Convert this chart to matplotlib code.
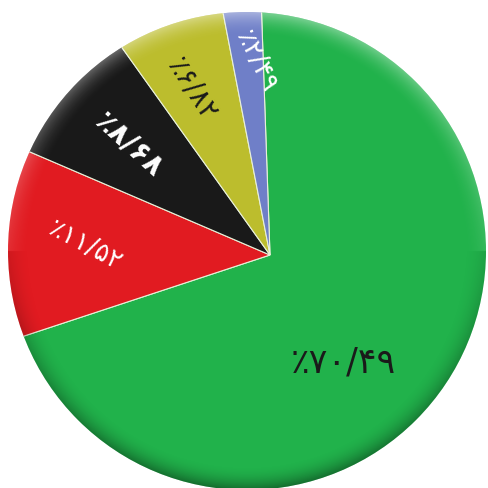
import numpy as np
import matplotlib
matplotlib.use("Agg")
import matplotlib.pyplot as plt
from matplotlib.patches import Circle

plt.rcParams['font.family'] = ['DejaVu Sans']

# data (clockwise from the top)
shares = [70.49, 11.52, 8.68, 6.82, 2.49]
labels = ["٪۷۰/۴۹", "٪۱۱/۵۲", "٪۸/۶۸", "٪۶/۸۲", "٪۲/۴۹"]
colors = ["#21b24b", "#e11b21", "#191919", "#bcbd2d", "#6f7fc8"]
text_colors = ["#1a1a1a", "#ffffff", "#ffffff", "#1a1a1a", "#ffffff"]

# label styling
label_radius = [0.545, 0.775, 0.75, 0.765, 0.81]
label_angle_shift = [-21, -0.5, 1, 2, -2.3]
label_rotation = [0, -28, -42, -57, -64]
label_size = [25, 19, 21, 20, 19]
label_weight = ["normal", "normal", "bold", "normal", "normal"]

W, H = 489, 488
fig = plt.figure(figsize=(W / 100, H / 100), dpi=100)
ax = fig.add_axes([0, 0, 1, 1])

# disc outline and the (slightly off-centre) apex of the slices
cx, cy, R = 247, H - 251, 239
ax_, ay_ = 270, H - 255

wedges, _ = ax.pie(shares, colors=colors, startangle=92, counterclock=False,
                   center=(ax_, ay_), radius=R * 1.4, frame=True,
                   wedgeprops=dict(edgecolor="#e8f0d8", linewidth=0.8))
ax.set_aspect("auto")
ax.axis("off")

disc = Circle((cx, cy), R, facecolor="none", edgecolor="none")
ax.add_patch(disc)
for w in wedges:
    w.set_clip_on(True)
    w.set_clip_path(disc)

# soft bevel shading at the rim
n = 400
xs = np.linspace(cx - R, cx + R, n)
ys = np.linspace(cy - R, cy + R, n)
X, Y = np.meshgrid(xs, ys)
r = np.sqrt((X - cx) ** 2 + (Y - cy) ** 2) / R
shade = np.clip((r - 0.90) / 0.10, 0, 1) ** 2
s = (Y - cy) / np.maximum(r * R, 1e-6)
rgba = np.zeros((n, n, 4))
rgba[..., :3] = np.where((s > 0)[..., None], 1.0, 0.0)
rgba[..., 3] = shade * (0.08 + 0.30 * np.abs(s))
im = ax.imshow(rgba, extent=(cx - R, cx + R, cy - R, cy + R), origin="lower",
               zorder=3, interpolation="bilinear", aspect="auto")
im.set_clip_path(disc)
ax.set_xlim(0, W)
ax.set_ylim(0, H)

for i, w in enumerate(wedges):
    mid = np.deg2rad((w.theta1 + w.theta2) / 2 + label_angle_shift[i])
    x = ax_ + label_radius[i] * R * np.cos(mid)
    y = ay_ + label_radius[i] * R * np.sin(mid)
    ax.text(x, y, labels[i], color=text_colors[i], fontsize=label_size[i],
            fontweight=label_weight[i], rotation=label_rotation[i],
            rotation_mode="anchor", ha="center", va="center", zorder=4)

fig.savefig("out.png", dpi=100, facecolor="white")
